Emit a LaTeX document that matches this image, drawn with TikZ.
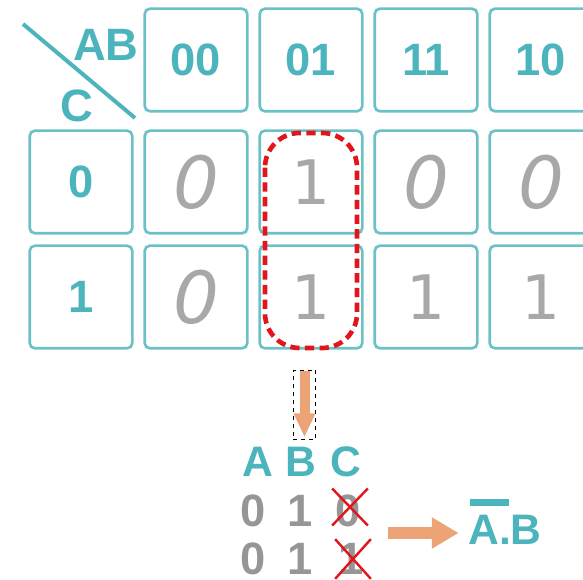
\documentclass[tikz,border=0pt]{standalone}
\usepackage{fontspec}
\setmainfont{Liberation Sans}
\newfontfamily\handfont{DejaVu Sans}
\usepackage{tikz}
\usetikzlibrary{arrows.meta,positioning,shapes.misc}
\usepackage{xcolor}
\definecolor{kmteal}{RGB}{76,180,189}
\definecolor{kmframe}{RGB}{108,193,199}
\definecolor{kmgray}{RGB}{150,150,150}
\definecolor{kmhand}{RGB}{168,168,168}
\definecolor{kmred}{RGB}{226,22,26}
\definecolor{kmorange}{RGB}{236,164,118}
\newcommand{\negbar}[1]{\makebox[0pt][l]{\hspace{0.05em}\rule[0.92em]{0.9em}{0.16em}}#1}
\tikzstyle{kbox} = [rectangle, rounded corners=4pt, minimum width=77pt, minimum height=77pt, draw=kmframe, line width=2pt, fill=white]
\tikzstyle{khead} = [kbox, font=\fontsize{34}{34}\selectfont\bfseries, text=kmteal]
\tikzstyle{kcell} = [kbox, font=\handfont\fontsize{46}{46}\selectfont, text=kmhand]
\tikzstyle{kzero} = [kcell, font=\handfont\fontsize{54}{54}\selectfont\itshape]
\tikzstyle{var} = [font=\fontsize{32}{32}\selectfont\bfseries, text=kmteal, inner sep=0pt]
\tikzstyle{bit} = [font=\fontsize{34}{34}\selectfont\bfseries, text=kmgray, inner sep=0pt]
\tikzstyle{group} = [draw=kmred, line width=3.5pt, dash pattern=on 7pt off 4pt, rounded corners=26pt]
\tikzstyle{strike} = [cross out, draw=kmred, line width=1.8pt, minimum width=25pt, minimum height=26pt, inner sep=0pt]
\tikzstyle{arrow} = [draw=kmorange, line width=8pt, -{Triangle[width=22pt,length=20pt]}]

\begin{document}
\begin{tikzpicture}[x=0.75pt,y=-0.75pt]
\clip (0,0) rectangle (583,580);

% Corner of the map
\draw[kmteal, line width=3pt] (23,24) -- (135,118);
\node[var, font=\fontsize{34}{34}\selectfont\bfseries] (ab) at (106,45) {AB};
\node[var, font=\fontsize{34}{34}\selectfont\bfseries] (c) at (77,106) {C};

% Column heads (AB)
\node[khead] (h00) at (196,60) {00};
\node[khead] (h01) at (311,60) {01};
\node[khead] (h11) at (426,60) {11};
\node[khead] (h10) at (541,60) {10};

% Row heads (C)
\node[khead] (r0) at (81,182) {0};
\node[khead] (r1) at (81,297) {1};

% Cells
\node[kzero] (a00) at (196,182) {0};
\node[kcell] (a01) at (311,182) {1};
\node[kzero] (a11) at (426,182) {0};
\node[kzero] (a10) at (541,182) {0};
\node[kzero] (b00) at (196,297) {0};
\node[kcell] (b01) at (311,297) {1};
\node[kcell] (b11) at (426,297) {1};
\node[kcell] (b10) at (541,297) {1};

% Group of two ones
\draw[group] (265,133) rectangle (357,348);

% Pick the group out
\node[draw, dashed, line width=0.6pt, minimum width=17pt, minimum height=52pt, inner sep=0pt] (pick) at (304.5,405) {};
\draw[arrow, line width=7.5pt, -{Triangle[width=15pt,length=18pt]}, shorten <=1pt, shorten >=2pt] (pick.north) -- (pick.south);

% Table of the group
\node[var] (ta) at (258,462) {A};
\node[var] (tb) at (301,462) {B};
\node[var] (tc) at (346,462) {C};
\node[bit] (a1) at (253,511) {0};
\node[bit] (b1) at (300,511) {1};
\node[bit] (c1) at (348,511) {0};
\node[bit] (a2) at (253,559) {0};
\node[bit] (b2) at (300,559) {1};
\node[bit] (c2) at (351,559) {1};
\node[strike] (x1) at (350,507) {};
\node[strike, minimum height=28pt] (x2) at (353,559) {};

% Result
\node[var, anchor=base] (res) at (505,545) {\negbar{A}.B};
\coordinate (tabr) at (388,533);
\draw[arrow, line width=9pt, shorten >=7pt] (tabr) -- (tabr -| res.west);
\end{tikzpicture}
\end{document}
